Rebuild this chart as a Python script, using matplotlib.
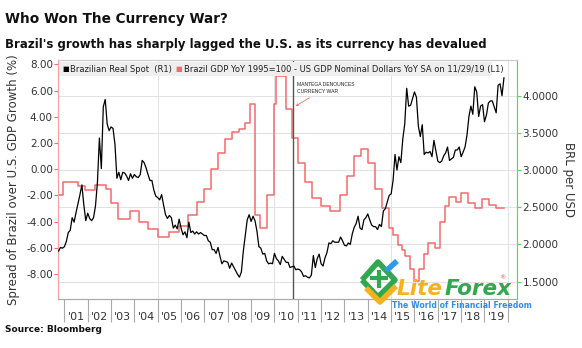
import numpy as np
import matplotlib.pyplot as plt
from matplotlib.lines import Line2D

# USD/BRL spot (BRL per USD), monthly from Oct 2000
brl_2000 = [1.91, 1.96, 1.95]
brl_2001 = [1.97, 2.04, 2.16, 2.19, 2.36, 2.30, 2.43, 2.55, 2.67, 2.80, 2.53, 2.32]
brl_2002 = [2.42, 2.35, 2.32, 2.36, 2.52, 2.84, 3.43, 3.02, 3.85, 3.95, 3.62, 3.53]
brl_2003 = [3.58, 3.56, 3.35, 2.89, 2.97, 2.87, 2.97, 2.96, 2.92, 2.86, 2.95, 2.89]
brl_2004 = [2.94, 2.91, 2.90, 2.94, 3.13, 3.10, 3.03, 2.94, 2.86, 2.86, 2.73, 2.65]
brl_2005 = [2.63, 2.60, 2.67, 2.53, 2.40, 2.35, 2.39, 2.36, 2.22, 2.26, 2.21, 2.34]
brl_2006 = [2.22, 2.13, 2.17, 2.09, 2.30, 2.16, 2.18, 2.14, 2.17, 2.14, 2.16, 2.14]
brl_2007 = [2.12, 2.12, 2.05, 2.03, 1.93, 1.93, 1.88, 1.96, 1.84, 1.74, 1.78, 1.77]
brl_2008 = [1.76, 1.68, 1.75, 1.70, 1.65, 1.60, 1.56, 1.63, 1.91, 2.12, 2.33, 2.40]
brl_2009 = [2.31, 2.38, 2.32, 2.18, 1.97, 1.95, 1.87, 1.88, 1.78, 1.74, 1.75, 1.74]
brl_2010 = [1.88, 1.81, 1.78, 1.73, 1.84, 1.80, 1.76, 1.76, 1.69, 1.70, 1.71, 1.66]
brl_2011 = [1.67, 1.66, 1.63, 1.57, 1.58, 1.56, 1.55, 1.59, 1.85, 1.69, 1.81, 1.87]
brl_2012 = [1.74, 1.71, 1.82, 1.89, 2.02, 2.01, 2.05, 2.03, 2.03, 2.03, 2.10, 2.05]
brl_2013 = [1.99, 1.98, 2.02, 2.00, 2.14, 2.23, 2.28, 2.38, 2.22, 2.20, 2.33, 2.36]
brl_2014 = [2.41, 2.33, 2.26, 2.24, 2.24, 2.20, 2.27, 2.24, 2.45, 2.48, 2.57, 2.66]
brl_2015 = [2.68, 2.86, 3.21, 3.00, 3.18, 3.10, 3.42, 3.62, 4.10, 3.86, 3.87, 3.96]
brl_2016 = [4.05, 3.98, 3.59, 3.45, 3.61, 3.21, 3.24, 3.23, 3.25, 3.18, 3.40, 3.26]
brl_2017 = [3.12, 3.10, 3.12, 3.19, 3.23, 3.31, 3.13, 3.15, 3.17, 3.27, 3.27, 3.31]
brl_2018 = [3.18, 3.24, 3.31, 3.47, 3.72, 3.86, 3.75, 4.12, 4.05, 3.72, 3.86, 3.88]
brl_2019 = [3.65, 3.74, 3.90, 3.93, 3.93, 3.85, 3.77, 4.14, 4.16, 4.00, 4.24]

# Brazil minus US GDP growth spread (%), step changes (year, value)
gdp_t = [2000.75, 2000.95, 2001.6, 2001.9, 2002.3, 2002.8, 2003.0, 2003.3, 2003.8,
         2004.2, 2004.6, 2005.0, 2005.5, 2005.9, 2006.3, 2006.7, 2007.0, 2007.3,
         2007.6, 2007.9, 2008.2, 2008.5, 2008.75, 2008.95, 2009.15, 2009.4, 2009.7,
         2010.0, 2010.08, 2010.5, 2010.75, 2011.0, 2011.3, 2011.6, 2012.0, 2012.4,
         2012.8, 2013.1, 2013.4, 2013.7, 2014.0, 2014.3, 2014.6, 2014.9, 2015.1,
         2015.3, 2015.45, 2015.6, 2015.8, 2016.0, 2016.2, 2016.4, 2016.6, 2016.9,
         2017.1, 2017.3, 2017.5, 2017.8, 2018.0, 2018.3, 2018.6, 2018.9, 2019.2,
         2019.5, 2019.85]
gdp_spread = [-2.0, -1.0, -1.3, -1.6, -1.2, -1.5, -2.6, -3.8, -3.2,
              -4.0, -4.6, -5.2, -4.8, -4.3, -3.5, -2.5, -1.5, 0.0,
              1.2, 2.3, 2.8, 3.1, 3.5, 5.0, -3.5, -4.5, -2.0,
              5.0, 7.1, 4.6, 2.4, 0.5, -1.0, -2.2, -2.8, -3.2,
              -2.0, -0.5, 1.0, 1.5, 0.5, -1.5, -3.0, -4.5, -5.0,
              -5.8, -6.2, -6.6, -7.6, -8.5, -7.6, -6.5, -5.6, -6.0,
              -4.0, -2.8, -2.1, -2.5, -1.8, -2.6, -3.0, -2.3, -2.7,
              -3.0, -3.0]

year_labels = ["'01", "'02", "'03", "'04", "'05", "'06", "'07", "'08", "'09", "'10",
               "'11", "'12", "'13", "'14", "'15", "'16", "'17", "'18", "'19"]
left_ticks = [-8, -6, -4, -2, 0, 2, 4, 6, 8]
right_ticks = [1.5, 2.0, 2.5, 3.0, 3.5, 4.0]
mantega_date = 2010.78

brl = (brl_2000 + brl_2001 + brl_2002 + brl_2003 + brl_2004 + brl_2005 + brl_2006
       + brl_2007 + brl_2008 + brl_2009 + brl_2010 + brl_2011 + brl_2012 + brl_2013
       + brl_2014 + brl_2015 + brl_2016 + brl_2017 + brl_2018 + brl_2019)
brl_t = 2000.75 + np.arange(len(brl)) / 12

red = '#f26b6b'
green = '#5fd85f'
txt = '#333333'

fig = plt.figure(figsize=(5.82, 3.48), dpi=100)
fig.patch.set_facecolor('white')
ax = fig.add_axes([0.1002, 0.140, 0.788, 0.6876])
ax2 = ax.twinx()

xlim = (2000.74, 2020.39)
ylim = (-9.93, 8.33)
rlim = (1.263, 4.48)
ax.set_xlim(*xlim)
ax.set_ylim(*ylim)
ax2.set_ylim(*rlim)

# grid: horizontal at right-axis ticks, vertical every five years
for v in right_ticks:
    y = ylim[0] + (v - rlim[0]) / (rlim[1] - rlim[0]) * (ylim[1] - ylim[0])
    ax.axhline(y, color='#e2e2e2', lw=0.7, zorder=0)
for yr in [2005, 2010, 2015, 2020]:
    ax.axvline(yr, color='#e2e2e2', lw=0.7, zorder=0)

ax.step(gdp_t, gdp_spread, where='post', color=red, lw=1.1, zorder=2)
ax2.plot(brl_t, brl, color='black', lw=0.9, zorder=3)

ax.axvline(mantega_date, color='#555555', lw=1.0, zorder=4)
ax.annotate('MANTEGA DENOUNCES\nCURRENCY WAR', xy=(mantega_date + 0.02, 4.7),
            xytext=(mantega_date + 0.2, 6.2), fontsize=3.6, color='#222222',
            family='Liberation Sans', va='center', linespacing=1.3,
            arrowprops=dict(arrowstyle='->', color=red, lw=0.6))

# spines
for s in ['top']:
    ax.spines[s].set_color('#cccccc')
    ax2.spines[s].set_color('#cccccc')
ax.spines['bottom'].set_color('#aaaaaa')
ax2.spines['bottom'].set_color('#aaaaaa')
ax.spines['left'].set_color('#f4a0a0')
ax2.spines['left'].set_color('#f4a0a0')
ax2.spines['right'].set_color(green)
ax.spines['right'].set_color(green)

ax.set_yticks(left_ticks)
ax.set_yticklabels(['%.2f' % v for v in left_ticks])
ax.tick_params(axis='y', colors=red, labelcolor=txt, labelsize=7.5, length=3, pad=1)
ax2.set_yticks(right_ticks)
ax2.set_yticklabels(['%.4f' % v for v in right_ticks])
ax2.tick_params(axis='y', colors=green, labelcolor=txt, labelsize=7.5, length=3, pad=1)

ax.set_xticks(range(2001, 2021))
ax.set_xticklabels([])
ax.set_xticks(np.arange(2001.5, 2020), minor=True)
ax.set_xticklabels(year_labels, minor=True)
ax.tick_params(axis='x', which='major', length=16.5, color='#aaaaaa', width=0.8)
ax.tick_params(axis='x', which='minor', length=0, pad=9, labelsize=8, labelcolor=txt)

ax.set_ylabel('Spread of Brazil over U.S. GDP Growth (%)', fontsize=8.5, color=txt, labelpad=4)
ax2.set_ylabel('BRL per USD', fontsize=8.5, color=txt, rotation=-90, labelpad=12)

# legend strip
ax.add_patch(plt.Rectangle((0, 0.933), 0.9455, 0.058, transform=ax.transAxes,
                           facecolor='#eeeeee', edgecolor='none', zorder=5))
ax.text(0.009, 0.962, '\u25a0', transform=ax.transAxes, fontsize=5, color='black',
        va='center', zorder=6)
ax.text(0.026, 0.962, 'Brazilian Real Spot  (R1)', transform=ax.transAxes, fontsize=6.0,
        color='#222222', va='center', zorder=6)
ax.text(0.256, 0.962, '\u25a0', transform=ax.transAxes, fontsize=5, color=red,
        va='center', zorder=6)
ax.text(0.273, 0.962, 'Brazil GDP YoY 1995=100 - US GDP Nominal Dollars YoY SA on 11/29/19 (L1)',
        transform=ax.transAxes, fontsize=6.0, color='#222222', va='center', zorder=6)

# titles and source
fig.text(0.009, 0.945, 'Who Won The Currency War?', fontsize=9.8, fontweight='bold',
         va='center', color='#111111')
fig.text(0.009, 0.872, "Brazil's growth has sharply lagged the U.S. as its currency has devalued",
         fontsize=8.5, fontweight='bold', va='center', color='#111111')
fig.text(0.009, 0.052, 'Source: Bloomberg', fontsize=6.5, fontweight='bold', va='center',
         color='#111111')

# LiteForex watermark
def px(x, y):
    return x / 582, 1 - y / 348

for pts, col, w in [([(362, 280), (378, 262), (395, 280), (378, 297), (362, 280)], '#2fa84f', 4),
                    ([(366, 288), (380, 302), (396, 286)], '#f5b21c', 4),
                    ([(370, 278), (388, 278)], '#2fa84f', 3),
                    ([(379, 270), (379, 288)], '#2fa84f', 3),
                    ([(386, 271), (397, 261)], '#2e9be8', 4)]:
    xs, ys = zip(*[px(*p) for p in pts])
    fig.add_artist(Line2D(xs, ys, color=col, lw=w, solid_capstyle='butt'))
lite = fig.text(px(397, 0)[0], px(0, 295)[1], 'Lite', fontsize=15.5, fontstyle='italic',
                fontweight='bold', color='#f5b21c', va='baseline')
renderer = fig.canvas.get_renderer()
lite_end = lite.get_window_extent(renderer).x1 / (fig.get_figwidth() * fig.dpi)
fig.text(lite_end + 0.002, px(0, 295)[1], 'Forex', fontsize=15.5, fontstyle='italic',
         fontweight='bold', color='#2fa84f', va='baseline')
fig.text(px(499, 0)[0], px(0, 278)[1], '\u00ae', fontsize=4.5, color='#e05050', va='center')
fig.text(px(392, 0)[0], px(0, 300.5)[1], 'The World of Financial Freedom', fontsize=5.6,
         fontweight='bold', color='#2e8ee8', va='top')

fig.savefig('out.png', dpi=100)
